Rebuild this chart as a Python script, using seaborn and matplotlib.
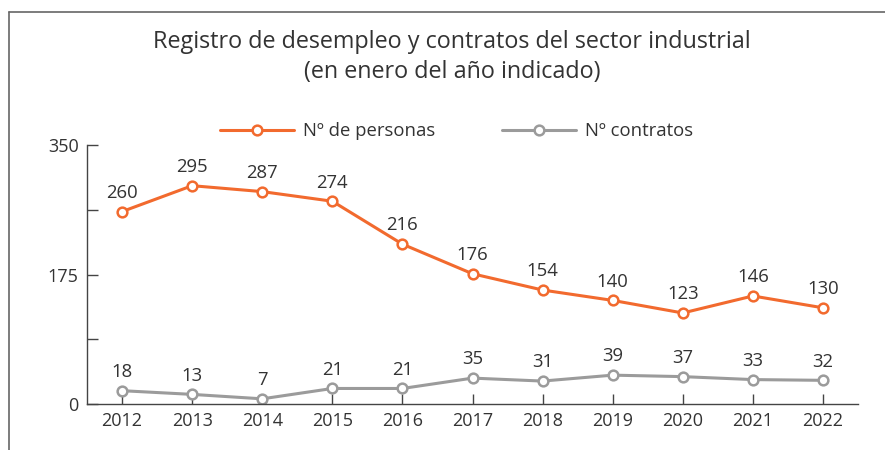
import seaborn as sns
import matplotlib.pyplot as plt
import matplotlib.lines as mlines
import pandas as pd

years = ['2012', '2013', '2014', '2015', '2016', '2017', '2018', '2019', '2020', '2021', '2022']
personas = [260, 295, 287, 274, 216, 176, 154, 140, 123, 146, 130]
contratos = [18, 13, 7, 21, 21, 35, 31, 39, 37, 33, 32]
yticks_major = [0, 175, 350]
yticks_minor = [87.5, 262.5]

orange = '#F26A2E'
grey = '#9B9B9B'
txt = '#333333'

sns.set_style('white')
plt.rcParams['font.family'] = ['Open Sans', 'DejaVu Sans']

df = pd.DataFrame({'x': range(len(years)), 'personas': personas, 'contratos': contratos})

fig = plt.figure(figsize=(8.85, 4.5), dpi=100)
ax = fig.add_axes([0.0983, 0.1022, 0.8712, 0.5756])

for col, c in [('personas', orange), ('contratos', grey)]:
    sns.lineplot(data=df, x='x', y=col, ax=ax, color=c, linewidth=2.2,
                 marker='o', markersize=7, markerfacecolor='white',
                 markeredgecolor=c, markeredgewidth=1.8)
    for xi, v in zip(df['x'], df[col]):
        ax.annotate(str(v), (xi, v), xytext=(0, 7), textcoords='offset points',
                    ha='center', va='bottom', fontsize=13.3, color=txt)

ax.set_xlim(-0.5, len(years) - 0.5)
ax.set_ylim(0, 350)
ax.set_xticks(range(len(years)))
ax.set_xticklabels(years)
ax.set_yticks(yticks_major)
ax.set_yticks(yticks_minor, minor=True)
ax.set_xlabel('')
ax.set_ylabel('')
for s in ['top', 'right']:
    ax.spines[s].set_visible(False)
for s in ['left', 'bottom']:
    ax.spines[s].set_color('#444444')
    ax.spines[s].set_linewidth(1.0)
ax.tick_params(axis='y', which='both', direction='in', length=8, width=1,
               color='#444444', labelsize=13, labelcolor=txt, pad=6, left=True)
ax.tick_params(axis='x', direction='in', length=7, width=1, color='#444444',
               labelsize=13, labelcolor=txt, pad=6, bottom=True)

h1 = mlines.Line2D([], [], color=orange, lw=2.2, marker='o', markersize=7,
                   markerfacecolor='white', markeredgewidth=1.8)
h2 = mlines.Line2D([], [], color=grey, lw=2.2, marker='o', markersize=7,
                   markerfacecolor='white', markeredgewidth=1.8)
fig.legend([h1, h2], ['Nº de personas', 'Nº contratos'], loc='center',
           bbox_to_anchor=(0.516, 0.708), ncol=2, frameon=False, fontsize=13.3,
           handlelength=4.0, handletextpad=0.5, columnspacing=3.6, labelcolor=txt)

fig.text(0.511, 0.873, 'Registro de desempleo y contratos del sector industrial\n(en enero del año indicado)',
         ha='center', va='center', fontsize=16.8, color=txt, linespacing=1.3)

# frame on top and left
fig.add_artist(mlines.Line2D([0.0105, 0.0105], [0, 0.973], color='#666666', lw=1.2))
fig.add_artist(mlines.Line2D([0.0105, 1.0], [0.973, 0.973], color='#666666', lw=1.2))

fig.savefig('out.png', dpi=100)
